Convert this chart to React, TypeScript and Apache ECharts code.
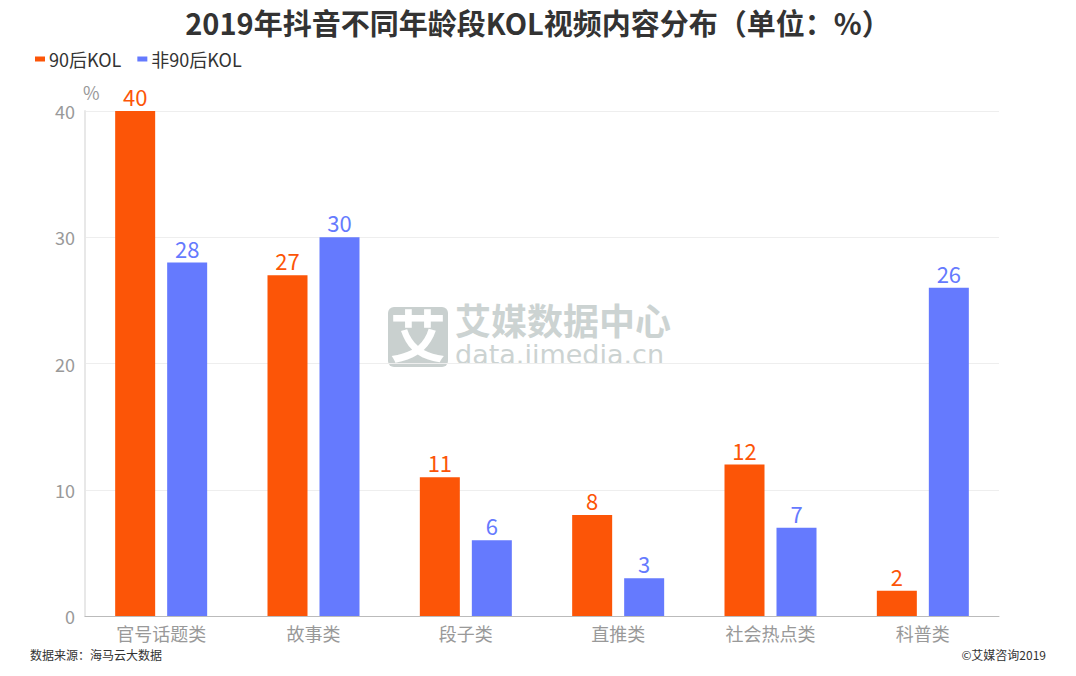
import React, { useEffect, useRef } from "react";
import * as echarts from "echarts";

const categories = ["官号话题类", "故事类", "段子类", "直推类", "社会热点类", "科普类"];
const series90 = [40, 27, 11, 8, 12, 2];
const seriesNon90 = [28, 30, 6, 3, 7, 26];
const seriesNames = ["90后KOL", "非90后KOL"];
const yTicks = { min: 0, max: 40, interval: 10 };

const ORANGE = "#FC5507";
const BLUE = "#657AFE";
const FONT = "'Microsoft YaHei', 'Noto Sans CJK SC', 'Noto Sans', sans-serif";

export default function App() {
  const ref = useRef<HTMLDivElement>(null);
  useEffect(() => {
    if (!ref.current) return;
    const chart = echarts.init(ref.current, null, { renderer: "svg" });
    const wmColor = "#ccd3d2";
    chart.setOption({
      animation: false,
      backgroundColor: "#fff",
      textStyle: { fontFamily: FONT },
      title: {
        text: "2019年抖音不同年龄段KOL视频内容分布（单位：%）",
        left: "center",
        top: 2,
        textStyle: { fontSize: 29, fontWeight: "bold", color: "#333", fontFamily: FONT },
      },
      legend: {
        data: seriesNames,
        left: 30,
        top: 45,
        itemWidth: 10,
        itemHeight: 5,
        itemGap: 16,
        icon: "rect",
        textStyle: { fontSize: 18, color: "#333", padding: [0, 0, 0, -1] },
      },
      grid: { left: 85, right: 77, top: 111, bottom: 60, containLabel: false },
      xAxis: {
        type: "category",
        data: categories,
        axisLine: { lineStyle: { color: "#bbb" } },
        axisTick: { alignWithLabel: true, lineStyle: { color: "#bbb" } },
        axisLabel: { fontSize: 18, color: "#999", margin: 8 },
      },
      yAxis: {
        type: "value",
        name: "%",
        nameGap: 10,
        nameTextStyle: { fontSize: 18, color: "#999", align: "left", padding: [0, 0, 0, -2] },
        min: yTicks.min,
        max: yTicks.max,
        interval: yTicks.interval,
        axisLine: { show: true, lineStyle: { color: "#e8e8e8", width: 2 } },
        axisTick: { show: false },
        axisLabel: { fontSize: 18, color: "#999", margin: 10 },
        splitLine: { lineStyle: { color: "#eee" } },
      },
      graphic: [
        {
          type: "rect",
          left: 388,
          top: 307,
          shape: { width: 60, height: 60, r: 6 },
          style: { fill: "#c9d0cf" },
          z: 0,
        },
        {
          type: "text",
          left: 390,
          top: 304,
          style: { text: "艾", fill: "#fff", fontSize: 56, fontWeight: "bold", fontFamily: FONT },
          z: 0,
        },
        {
          type: "text",
          left: 455,
          top: 301,
          style: {
            text: "{a|艾媒数据中心}\n{b|data.iimedia.cn}",
            fill: wmColor,
            fontFamily: FONT,
            rich: {
              a: { fontSize: 36, fontWeight: "bold", lineHeight: 44, fill: wmColor, fontFamily: FONT },
              b: { fontSize: 27, lineHeight: 27, fill: wmColor, fontFamily: "'DejaVu Sans', sans-serif" },
            },
          },
          z: 0,
        },
        {
          type: "text",
          left: 30,
          top: 648,
          style: { text: "数据来源：海马云大数据", fill: "#333", fontSize: 12, fontFamily: FONT },
        },
        {
          type: "text",
          right: 30,
          top: 648,
          style: { text: "©艾媒咨询2019", fill: "#333", fontSize: 12, fontFamily: FONT },
        },
      ],
      series: [
        {
          name: seriesNames[0],
          type: "bar",
          data: series90,
          barWidth: 40,
          barGap: "30%",
          itemStyle: { color: ORANGE },
          label: { show: true, position: "top", color: ORANGE, fontSize: 22, distance: 4 },
          z: 3,
        },
        {
          name: seriesNames[1],
          type: "bar",
          data: seriesNon90,
          barWidth: 40,
          barGap: "30%",
          itemStyle: { color: BLUE },
          label: { show: true, position: "top", color: BLUE, fontSize: 22, distance: 4 },
          z: 3,
        },
      ],
    });
    return () => chart.dispose();
  }, []);
  return <div ref={ref} style={{ width: 1076, height: 676, position: "absolute", left: 0, top: 0 }} />;
}
